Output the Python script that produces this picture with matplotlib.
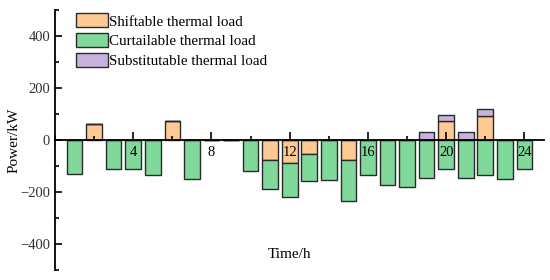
import numpy as np
import matplotlib
matplotlib.use("Agg")
import matplotlib.pyplot as plt
from matplotlib.ticker import MultipleLocator

hours = list(range(1, 25))
shiftable = [0, 62, 0, 0, 0, 72, 0, 0, 0, 0, -77, -87, -55, 0, -78, 0, 0, 0, 0, 74, 0, 91, 0, 0]
curtailable = [-131, 0, -111, -111, -135, 0, -150, 0, 0, -119, -113, -132, -103, -155, -157, -136, -174, -182, -147, -112, -145, -136, -149, -112]
substitutable = [0, 0, 0, 0, 0, 0, 0, 0, 0, 0, 0, 0, 0, 0, 0, 0, 0, 0, 30, 23, 30, 28, 0, 0]
labels = ["Shiftable thermal load", "Curtailable thermal load", "Substitutable thermal load"]
colors = ["#FFC993", "#80D99B", "#C8B2DD"]

plt.rcParams['font.family'] = ['Liberation Serif', 'DejaVu Serif']

fig = plt.figure(figsize=(5.5, 2.8), dpi=100)
ax = fig.add_axes([0.1, 0.036, 0.889, 0.928])

x = np.array(hours)
pos_base = np.zeros(len(hours))
neg_base = np.zeros(len(hours))
for vals, lab, col in zip([shiftable, curtailable, substitutable], labels, colors):
    v = np.array(vals, dtype=float)
    bottom = np.where(v >= 0, pos_base, neg_base)
    ax.bar(x, v, width=0.8, bottom=bottom, color=col, edgecolor="#2a2a2a",
           linewidth=1.0, label=lab, zorder=1)
    pos_base = pos_base + np.where(v > 0, v, 0)
    neg_base = neg_base + np.where(v < 0, v, 0)

ax.set_xlim(0, 25)
ax.set_ylim(-500, 500)
ax.spines['top'].set_visible(False)
ax.spines['right'].set_visible(False)
ax.spines['bottom'].set_position(('data', 0))
ax.spines['bottom'].set_linewidth(1.3)
ax.spines['left'].set_linewidth(1.3)
ax.set_axisbelow(False)

ax.xaxis.set_minor_locator(MultipleLocator(2))
ax.set_xticks([4, 8, 12, 16, 20, 24])
ax.yaxis.set_minor_locator(MultipleLocator(100))
ax.tick_params(axis='x', which='major', direction='in', length=6, width=1.2, labelsize=10.5, pad=4)
ax.tick_params(axis='x', which='minor', direction='in', length=3, width=1.2)
ax.tick_params(axis='y', which='major', direction='in', length=5, width=1.2, labelsize=10.5, labelcolor='#333333')
ax.tick_params(axis='y', which='minor', direction='in', length=3, width=1.2)
ax.set_yticks([-400, -200, 0, 200, 400])
ax.set_yticklabels(["\u2212400", "\u2212200", "0", "200", "400"])

ax.set_ylabel("Power/kW", fontsize=11)
ax.yaxis.set_label_coords(-0.07, 0.5)
ax.set_xlabel("Time/h", fontsize=11)
ax.xaxis.set_label_coords(0.48, 0.085)

leg = ax.legend(loc='upper left', bbox_to_anchor=(0.03, 1.01), frameon=False,
                fontsize=10.8, handlelength=2.15, handleheight=1.05, handletextpad=0.05,
                labelspacing=0.32, borderaxespad=0)

fig.savefig("out.png", dpi=100)
